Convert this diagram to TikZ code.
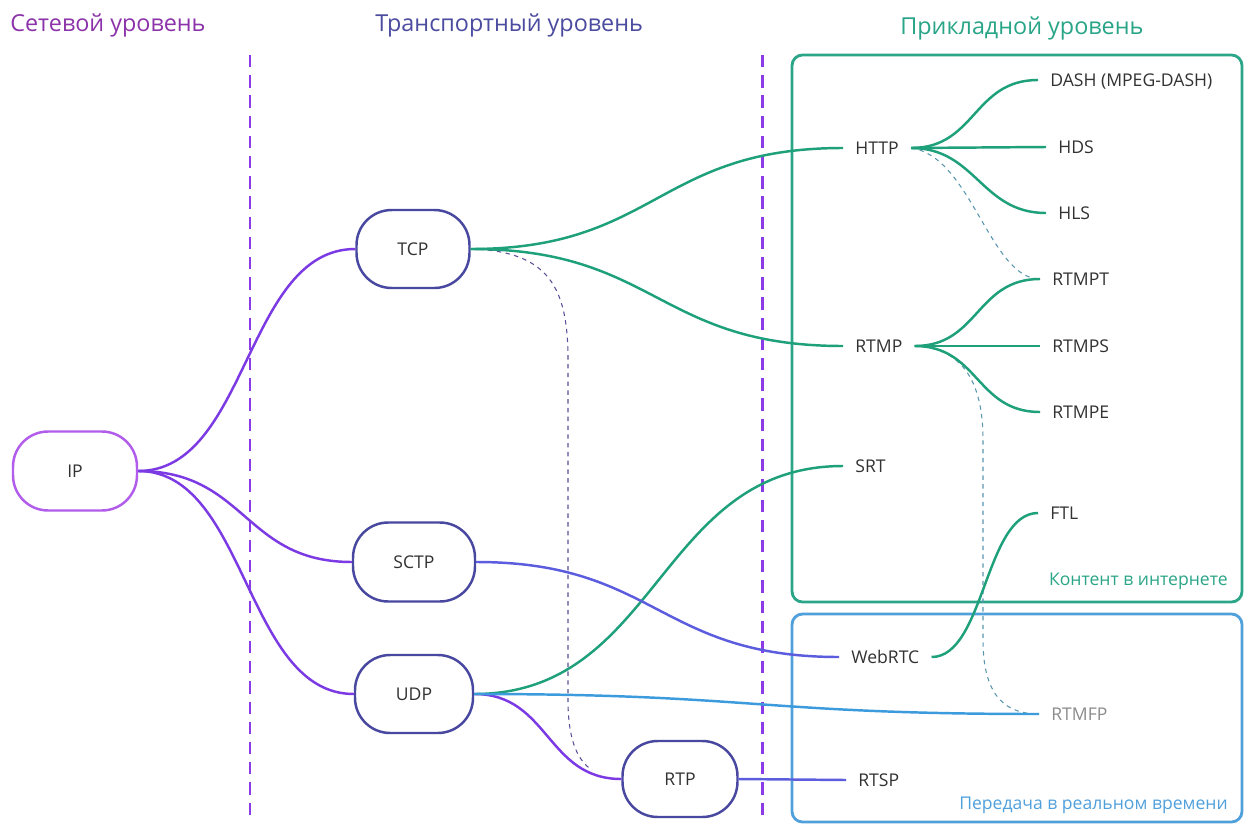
\documentclass[tikz,border=0pt]{standalone}
\usepackage{fontspec}
\setmainfont{Open Sans}
\definecolor{txt}{RGB}{50,50,50}
\definecolor{ttlA}{RGB}{140,50,170}
\definecolor{ttlB}{RGB}{75,75,160}
\definecolor{ttlC}{RGB}{40,165,135}
\definecolor{vdash}{RGB}{140,60,230}
\definecolor{ipb}{RGB}{178,92,235}
\definecolor{tb}{RGB}{72,72,160}
\definecolor{purp}{RGB}{124,58,228}
\definecolor{indi}{RGB}{92,92,222}
\definecolor{grn}{RGB}{30,160,122}
\definecolor{gbox}{RGB}{42,165,135}
\definecolor{blu}{RGB}{60,155,220}
\definecolor{bbox}{RGB}{80,160,220}
\definecolor{tdash}{RGB}{90,80,150}
\definecolor{adash}{RGB}{90,150,175}
\definecolor{gry}{RGB}{140,140,140}
\tikzset{
  ttl/.style={font=\fontsize{13.3}{16}\selectfont, anchor=base west, inner sep=0pt},
  lbl/.style={font=\fontsize{10}{12}\selectfont, text=txt, anchor=west, inner xsep=0.24cm, inner ysep=0pt, text height=7pt, text depth=0pt},
  tnode/.style={draw=tb, line width=1.4pt, rounded corners=20pt, fill=white, minimum width=2.26cm, minimum height=1.56cm, font=\fontsize{10}{12}\selectfont, text=txt},
  conn/.style={line width=1.4pt},
  vline/.style={draw=vdash, line width=1.7pt, dash pattern=on 7pt off 4.5pt},
  thin/.style={line width=0.6pt, dash pattern=on 2.5pt off 2.5pt},
  boxlbl/.style={font=\fontsize{10}{12}\selectfont, anchor=base east, inner sep=0pt}
}
\begin{document}
\begin{tikzpicture}[x=0.02cm,y=-0.02cm]
\useasboundingbox (0,0) rectangle (1251,825);
\fill[white] (0,0) rectangle (1251,825);
% titles
\node[ttl, text=ttlA] (t1) at (10,31) {Сетевой уровень};
\node[ttl, text=ttlB] (t2) at (375,31) {Транспортный уровень};
\node[ttl, text=ttlC] (t3) at (900,34) {Прикладной уровень};
% vertical dashed lines
\coordinate (v1a) at (250,55); \coordinate (v1b) at (250,815);
\coordinate (v2a) at (762,55); \coordinate (v2b) at (762,815);
\draw[vline] (v1a) -- (v1b);
\draw[vline] (v2a) -- (v2b);
% boxes
\draw[draw=gbox, line width=1.6pt, rounded corners=6pt] (792,55) rectangle (1242,602);
\draw[draw=bbox, line width=1.6pt, rounded corners=6pt] (792,614) rectangle (1242,822);
\node[boxlbl, text=gbox] (bl1) at (1228,585) {Контент в интернете};
\node[boxlbl, text=bbox] (bl2) at (1228,809) {Передача в реальном времени};
% shape nodes
\node[tnode, draw=ipb, minimum width=2.48cm, minimum height=1.58cm] (ip) at (75,471) {IP};
\node[tnode] (tcp) at (413,249) {TCP};
\node[tnode, minimum width=2.44cm, minimum height=1.58cm] (sctp) at (414,562) {SCTP};
\node[tnode, minimum width=2.36cm] (udp) at (414,694) {UDP};
\node[tnode, minimum width=2.3cm, minimum height=1.52cm] (rtp) at (680,779) {RTP};
% text nodes
\node[lbl] (http) at (843,148) {HTTP};
\node[lbl] (dash) at (1038,80) {DASH (MPEG-DASH)};
\node[lbl] (hds) at (1046,147) {HDS};
\node[lbl] (hls) at (1046,213) {HLS};
\node[lbl] (rtmpt) at (1040,279) {RTMPT};
\node[lbl] (rtmp) at (843,346) {RTMP};
\node[lbl] (rtmps) at (1040,346) {RTMPS};
\node[lbl] (rtmpe) at (1040,412) {RTMPE};
\node[lbl] (srt) at (843,466) {SRT};
\node[lbl] (ftl) at (1038,513) {FTL};
\node[lbl] (webrtc) at (839,657) {WebRTC};
\node[lbl, text=gry] (rtmfp) at (1039,714) {RTMFP};
\node[lbl] (rtsp) at (846,780) {RTSP};
% dashed thin connectors
\draw[thin, draw=tdash] (tcp.east) .. controls +(80,2) and +(0,-70) .. (568,360) -- (568,700) .. controls +(0,45) and +(-12,-8) .. (592,770);
\draw[thin, draw=adash] (http.east) .. controls +(60,8) and +(-50,0) .. (rtmpt.west);
\draw[thin, draw=adash] (rtmp.east) .. controls +(50,2) and +(0,-55) .. (983,440) -- (983,640) .. controls +(0,60) and +(-30,0) .. (rtmfp.west);
% purple connectors
\draw[conn, purp] (ip.east) .. controls +(110,0) and +(-110,0) .. (tcp.west);
\draw[conn, purp] (ip.east) .. controls +(108,0) and +(-108,0) .. (sctp.west);
\draw[conn, purp] (ip.east) .. controls +(109,0) and +(-109,0) .. (udp.west);
\draw[conn, purp] (udp.east) .. controls +(75,0) and +(-75,0) .. (rtp.west);
% green connectors
\draw[conn, grn] (tcp.east) .. controls +(186,0) and +(-186,0) .. (http.west);
\draw[conn, grn] (tcp.east) .. controls +(186,0) and +(-186,0) .. (rtmp.west);
\draw[conn, grn] (udp.east) .. controls +(185,0) and +(-185,0) .. (srt.west);
\draw[conn, grn] (http.east) .. controls +(65,0) and +(-65,0) .. (dash.west);
\draw[conn, grn] (http.east) -- (hds.west);
\draw[conn, grn] (http.east) .. controls +(65,0) and +(-65,0) .. (hls.west);
\draw[conn, grn] (rtmp.east) .. controls +(64,0) and +(-64,0) .. (rtmpt.west);
\draw[conn, grn] (rtmp.east) -- (rtmps.west);
\draw[conn, grn] (rtmp.east) .. controls +(64,0) and +(-64,0) .. (rtmpe.west);
\draw[conn, grn] (webrtc.east) .. controls +(53,0) and +(-53,0) .. (ftl.west);
% indigo / blue connectors
\draw[conn, indi] (sctp.east) .. controls +(180,0) and +(-180,0) .. (webrtc.west);
\draw[conn, indi] (rtp.east) -- (rtsp.west);
\draw[conn, blu] (udp.east) .. controls +(280,0) and +(-280,0) .. (rtmfp.west);
\end{tikzpicture}
\end{document}
